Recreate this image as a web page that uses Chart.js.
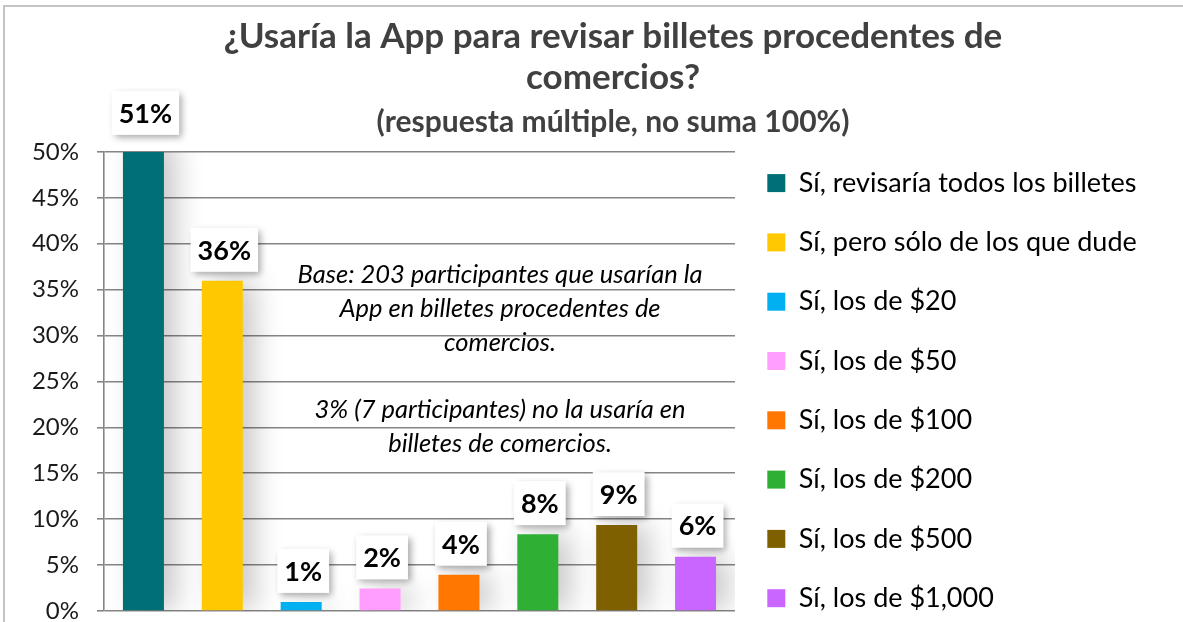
<!DOCTYPE html>
<html><head><meta charset="utf-8">
<script src="https://cdn.jsdelivr.net/npm/chart.js@4.4.1/dist/chart.umd.min.js"></script>
<style>
html,body{margin:0;padding:0;background:#fff;overflow:hidden;width:1183px;height:622px;}
#wrap{position:absolute;left:0;top:0;width:1183px;height:644px;}
#frame{position:absolute;left:3px;top:5px;width:1200px;height:700px;border-left:2px solid #c4c4c4;border-top:2px solid #c4c4c4;pointer-events:none;}
</style></head><body>
<div id="wrap"><canvas id="c" width="1183" height="644"></canvas></div>
<div id="frame"></div>
<script>
// ---- data ----
const categories = [
  'Sí, revisaría todos los billetes',
  'Sí, pero sólo de los que dude',
  'Sí, los de $20',
  'Sí, los de $50',
  'Sí, los de $100',
  'Sí, los de $200',
  'Sí, los de $500',
  'Sí, los de $1,000'
];
const values = [51.2, 35.96, 0.99, 2.46, 3.94, 8.37, 9.36, 5.91];
const valueLabels = ['51%', '36%', '1%', '2%', '4%', '8%', '9%', '6%'];
const barColors = ['#006F76', '#FFC800', '#00B0F0', '#FF9EFF', '#FF7700', '#2FB035', '#7F6000', '#C966FF'];
const yTickMin = 0, yTickMax = 50, yTickStep = 5;
const titleLines = ['¿Usaría la App para revisar billetes procedentes de', 'comercios?'];
const subtitleText = '(respuesta múltiple, no suma 100%)';
const noteLines = ['Base: 203 participantes que usarían la', 'App en billetes procedentes de', 'comercios.', '', '3% (7 participantes) no la usaría en', 'billetes de comercios.'];

const FONT = 'Lato, "Open Sans", sans-serif';
const LEGEND_WIDTH = 448;

const titleCenterPlugin = {
  id: 'titleCenter',
  afterLayout(chart) {
    const want = 613;
    chart.boxes.forEach(b => {
      if (b === chart.legend || b.axis) return;
      if (b.options && b.options.position === 'top') {
        const w = b.right - b.left;
        b.left = want - w / 2;
        b.right = want + w / 2;
      }
    });
  }
};

const legendWidthPlugin = {
  id: 'legendWidth',
  afterInit(chart) {
    const lg = chart.legend;
    if (!lg || lg.__patched) return;
    const orig = lg.fit;
    lg.fit = function () {
      orig.call(this);
      if (!this.isHorizontal()) this.width = LEGEND_WIDTH;
    };
    lg.__patched = true;
  }
};

const shadowPlugin = {
  id: 'barShadow',
  beforeDatasetsDraw(chart) {
    const ctx = chart.ctx;
    ctx.save();
    ctx.shadowColor = 'rgba(0,0,0,0.22)';
    ctx.shadowBlur = 28;
    ctx.shadowOffsetX = 12;
    ctx.shadowOffsetY = 0;
  },
  afterDatasetsDraw(chart) {
    chart.ctx.restore();
  }
};

const labelPlugin = {
  id: 'valueBoxes',
  afterDatasetsDraw(chart) {
    const ctx = chart.ctx;
    const area = chart.chartArea;
    const meta = chart.getDatasetMeta(0);
    ctx.save();
    ctx.font = 'bold 27px ' + FONT;
    meta.data.forEach((bar, i) => {
      const txt = valueLabels[i];
      const clipped = bar.y < area.top;
      const top = clipped ? area.top : bar.y;
      const tw = ctx.measureText(txt).width;
      const bw = tw + 14, bh = 44;
      const cx = bar.x + 2;
      const by = top - (clipped ? 17 : 9) - bh;
      ctx.save();
      ctx.shadowColor = 'rgba(0,0,0,0.35)';
      ctx.shadowBlur = 7;
      ctx.shadowOffsetX = 3;
      ctx.shadowOffsetY = 3;
      ctx.fillStyle = '#ffffff';
      ctx.fillRect(cx - bw / 2, by, bw, bh);
      ctx.restore();
      ctx.fillStyle = '#000000';
      ctx.textAlign = 'center';
      ctx.textBaseline = 'middle';
      ctx.fillText(txt, cx, by + bh / 2 + 1);
    });
    ctx.restore();
  }
};

const notePlugin = {
  id: 'note',
  afterDraw(chart) {
    const ctx = chart.ctx;
    ctx.save();
    ctx.font = 'italic 25.5px ' + FONT;
    ctx.fillStyle = '#000000';
    ctx.textAlign = 'center';
    ctx.textBaseline = 'alphabetic';
    noteLines.forEach((line, i) => {
      if (line) ctx.fillText(line, 500, 283 + i * 33.8);
    });
    ctx.restore();
  }
};

new Chart(document.getElementById('c'), {
  type: 'bar',
  data: {
    labels: categories,
    datasets: [{
      data: values,
      backgroundColor: barColors,
      borderWidth: 0,
      barPercentage: 0.52,
      categoryPercentage: 1.0
    }]
  },
  options: {
    responsive: false,
    animation: false,
    layout: { padding: { left: 0, right: 0, top: 0, bottom: 0 } },
    scales: {
      x: {
        display: true,
        ticks: { display: false },
        grid: { display: false, drawTicks: false },
        border: { display: false },
        afterFit(s) { s.height = 33; }
      },
      y: {
        min: yTickMin,
        max: yTickMax,
        ticks: {
          stepSize: yTickStep,
          callback: v => v + '%',
          font: { family: FONT, size: 24 },
          color: '#1a1a1a',
          padding: 18
        },
        grid: { color: '#858585', lineWidth: 1.6, tickLength: 7, drawTicks: true },
        border: { display: true, color: '#858585', width: 1.6 },
        afterFit(s) { s.width = 104; }
      }
    },
    plugins: {
      title: {
        display: true,
        text: titleLines,
        color: '#404040',
        font: { family: FONT, size: 35, weight: 'bold', lineHeight: 1.17 },
        padding: { top: 16.5, bottom: 3 }
      },
      subtitle: {
        display: true,
        text: subtitleText,
        color: '#404040',
        font: { family: FONT, size: 30, weight: 'bold', lineHeight: 1.2 },
        padding: { top: 2.5, bottom: 12 }
      },
      legend: {
        display: true,
        position: 'right',
        align: 'end',
        labels: {
          font: { family: FONT, size: 27 },
          color: '#404040',
          boxWidth: 18,
          boxHeight: 18,
          padding: 32.3,
          generateLabels: () => categories.map((c, i) => ({
            text: c,
            fillStyle: barColors[i],
            strokeStyle: barColors[i],
            lineWidth: 0,
            hidden: false,
            index: i
          }))
        }
      },
      tooltip: { enabled: false }
    }
  },
  plugins: [legendWidthPlugin, titleCenterPlugin, shadowPlugin, labelPlugin, notePlugin]
});
</script>
</body></html>
